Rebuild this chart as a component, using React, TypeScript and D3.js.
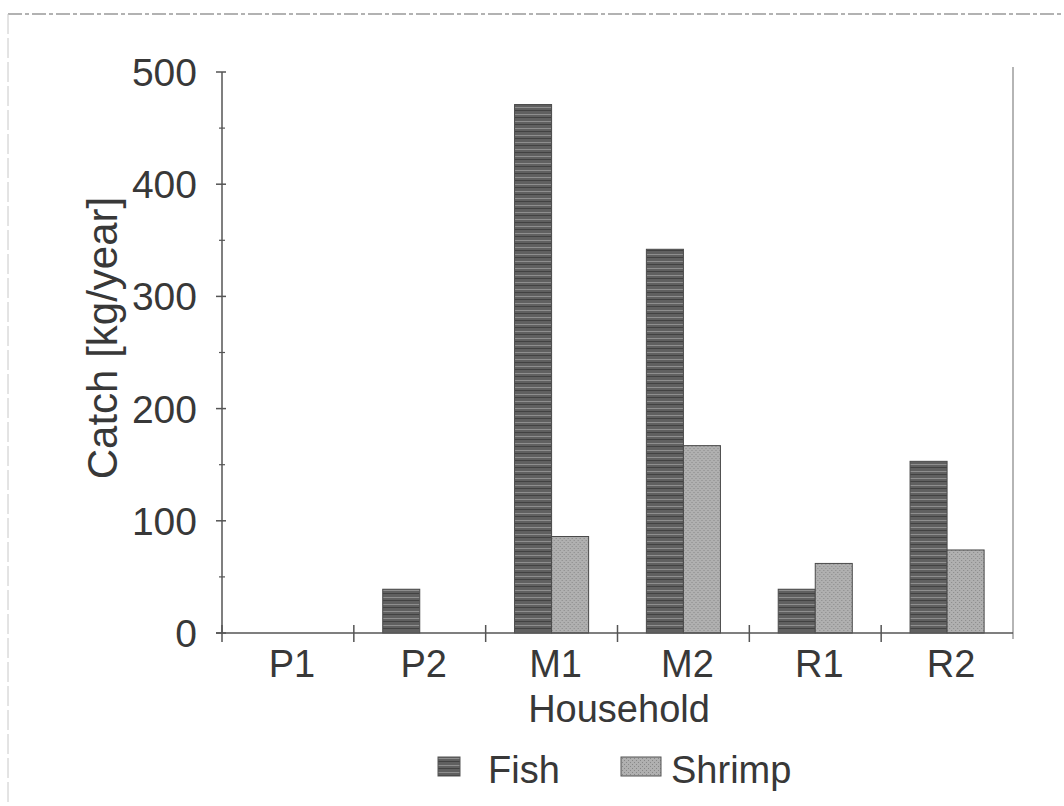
import React, { useEffect, useRef } from 'react'
import * as d3 from 'd3'

const households = ['P1', 'P2', 'M1', 'M2', 'R1', 'R2']
const seriesNames = ['Fish', 'Shrimp']
const fishValues = [0, 39, 471, 342, 39, 153]
const shrimpValues = [0, 0, 86, 167, 62, 74]
const yTicks = [0, 100, 200, 300, 400, 500]
const yMinorTicks = [50, 150, 250, 350, 450]

const FONT = '"Liberation Sans", Arial, sans-serif'
const TEXT = '#383838'

const CatchChart = () => {
    const svgRef = useRef<SVGSVGElement>(null)

    useEffect(() => {
        drawChart()
    }, [])

    const drawChart = () => {
        const svg: any = d3.select(svgRef.current)
        svg.selectAll('*').remove()

        const left = 222
        const right = 1013
        const top = 72
        const bottom = 633

        const x0 = d3.scaleBand().domain(households).range([left, right]).paddingInner(0).paddingOuter(0)
        const x1 = d3.scaleBand().domain(seriesNames).range([0, x0.bandwidth()]).paddingInner(0).paddingOuter(0.78)
        const y = d3.scaleLinear().domain([0, 500]).range([bottom, top])

        // fill patterns, imitating the printed hatching
        const defs = svg.append('defs')
        const fishPat = defs.append('pattern')
            .attr('id', 'fishPat').attr('patternUnits', 'userSpaceOnUse')
            .attr('width', 8).attr('height', 7)
        fishPat.append('rect').attr('width', 8).attr('height', 7).attr('fill', '#606060')
        fishPat.append('rect').attr('y', 2).attr('width', 8).attr('height', 1).attr('fill', '#8e8e8e')
        fishPat.append('rect').attr('y', 5).attr('width', 8).attr('height', 1).attr('fill', '#424242')

        const shrimpPat = defs.append('pattern')
            .attr('id', 'shrimpPat').attr('patternUnits', 'userSpaceOnUse')
            .attr('width', 4).attr('height', 4)
        shrimpPat.append('rect').attr('width', 4).attr('height', 4).attr('fill', '#b0b0b0')
        shrimpPat.append('rect').attr('width', 1).attr('height', 1).attr('fill', '#888')
        shrimpPat.append('rect').attr('x', 2).attr('y', 2).attr('width', 1).attr('height', 1).attr('fill', '#888')

        const fills: any = { Fish: 'url(#fishPat)', Shrimp: 'url(#shrimpPat)' }
        const valuesBySeries: any = { Fish: fishValues, Shrimp: shrimpValues }

        // page edges of the scan
        svg.append('line').attr('x1', 8).attr('x2', 1064).attr('y1', 14).attr('y2', 14)
            .attr('stroke', '#999').attr('stroke-width', 1.5).attr('stroke-dasharray', '14 3 4 3')
        svg.append('line').attr('x1', 8).attr('x2', 8).attr('y1', 14).attr('y2', 806)
            .attr('stroke', '#c8c8c8').attr('stroke-width', 1).attr('stroke-dasharray', '20 4')

        // right frame line
        svg.append('line').attr('x1', right).attr('x2', right).attr('y1', 67).attr('y2', bottom + 6)
            .attr('stroke', '#b5b5b5').attr('stroke-width', 2)

        // bars
        const rows = households.map((h, i) => ({ h, i }))
        const groups = svg.append('g').selectAll('g')
            .data(rows).join('g')
            .attr('transform', (d: any) => `translate(${x0(d.h)},0)`)

        groups.selectAll('rect')
            .data((d: any) => seriesNames.map((s) => ({ s, v: valuesBySeries[s][d.i] })).filter((e) => e.v > 0))
            .join('rect')
            .attr('x', (d: any) => x1(d.s))
            .attr('width', x1.bandwidth())
            .attr('y', (d: any) => y(d.v))
            .attr('height', (d: any) => y(0) - y(d.v))
            .attr('fill', (d: any) => fills[d.s])
            .attr('stroke', '#4a4a4a')
            .attr('stroke-width', 1)

        // y axis
        const axisColor = '#555'
        svg.append('line').attr('x1', left).attr('x2', left).attr('y1', top).attr('y2', bottom)
            .attr('stroke', axisColor).attr('stroke-width', 1.5)
        svg.append('g').selectAll('line.major').data(yTicks).join('line')
            .attr('x1', left - 6).attr('x2', left + 4)
            .attr('y1', (d: number) => y(d)).attr('y2', (d: number) => y(d))
            .attr('stroke', axisColor).attr('stroke-width', 1.5)
        svg.append('g').selectAll('line.minor').data(yMinorTicks).join('line')
            .attr('x1', left - 3).attr('x2', left + 3)
            .attr('y1', (d: number) => y(d)).attr('y2', (d: number) => y(d))
            .attr('stroke', axisColor).attr('stroke-width', 1.2)
        svg.append('g').selectAll('text').data(yTicks).join('text')
            .attr('x', 197).attr('y', (d: number) => y(d))
            .attr('dy', '0.36em')
            .attr('text-anchor', 'end')
            .attr('font-family', FONT).attr('font-size', 39).attr('fill', TEXT)
            .text((d: number) => d)

        // x axis
        svg.append('line').attr('x1', left - 6).attr('x2', right).attr('y1', bottom).attr('y2', bottom)
            .attr('stroke', axisColor).attr('stroke-width', 1.5)
        const boundaries = households.map((h) => x0(h) as number)
        svg.append('g').selectAll('line').data(boundaries).join('line')
            .attr('x1', (d: number) => d).attr('x2', (d: number) => d)
            .attr('y1', bottom - 8).attr('y2', bottom + 9)
            .attr('stroke', axisColor).attr('stroke-width', 1.5)
        svg.append('g').selectAll('text').data(households).join('text')
            .attr('x', (d: string) => (x0(d) as number) + x0.bandwidth() / 2 + 4)
            .attr('y', 677)
            .attr('text-anchor', 'middle')
            .attr('font-family', FONT).attr('font-size', 38).attr('fill', TEXT)
            .text((d: string) => d)

        // axis titles
        svg.append('text')
            .attr('x', 619).attr('y', 722)
            .attr('text-anchor', 'middle')
            .attr('font-family', FONT).attr('font-size', 38).attr('fill', TEXT)
            .text('Household')
        svg.append('text')
            .attr('transform', 'translate(117,338) rotate(-90)')
            .attr('text-anchor', 'middle')
            .attr('font-family', FONT).attr('font-size', 42).attr('fill', TEXT)
            .text('Catch [kg/year]')

        // legend
        const legendItems = [
            { name: seriesNames[0], sx: 438, sw: 22, tx: 488 },
            { name: seriesNames[1], sx: 621, sw: 40, tx: 671 },
        ]
        const lg = svg.append('g')
        lg.selectAll('rect').data(legendItems).join('rect')
            .attr('x', (d: any) => d.sx).attr('y', 757)
            .attr('width', (d: any) => d.sw).attr('height', 19)
            .attr('fill', (d: any) => fills[d.name])
            .attr('stroke', '#555').attr('stroke-width', 1)
        lg.selectAll('text').data(legendItems).join('text')
            .attr('x', (d: any) => d.tx).attr('y', 783)
            .attr('font-family', FONT).attr('font-size', 38).attr('fill', TEXT)
            .text((d: any) => d.name)
    }

    return (
        <svg
            ref={svgRef}
            width={1064}
            height={806}
            style={{ position: 'absolute', left: 0, top: 0, display: 'block', background: '#fff' }}
        ></svg>
    )
}

export default function App() {
    return <CatchChart />
}
